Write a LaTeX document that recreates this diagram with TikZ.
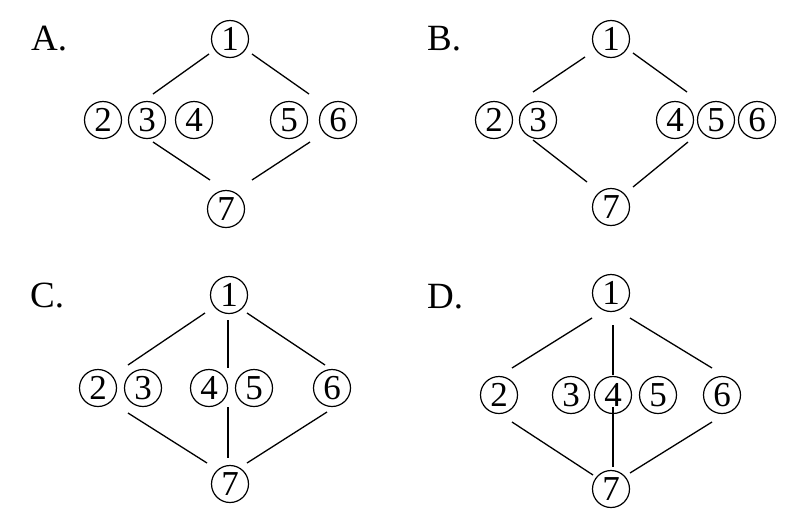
\documentclass[tikz,border=0pt]{standalone}
\usepackage{fontspec}
\setmainfont{Liberation Serif}
\usetikzlibrary{positioning}
\begin{document}
\begin{tikzpicture}[
  x=1pt, y=-1pt,
  num/.style={draw, circle, line width=1.2pt, minimum size=37pt, inner sep=0pt, font=\fontsize{35}{35}\selectfont},
  tag/.style={anchor=base west, inner sep=0pt, font=\fontsize{37}{37}\selectfont},
  link/.style={draw, line width=1.3pt}
  ]
\useasboundingbox (0,0) rectangle (799,528);

\node[tag] (labA) at (31,50) {A.};
\node[num] (a1) at (230,39) {1};
\node[num] (a2) at (103,120) {2};
\node[num] (a3) at (147,120) {3};
\node[num] (a4) at (194,120) {4};
\node[num] (a5) at (289,120) {5};
\node[num] (a6) at (338,120) {6};
\node[num] (a7) at (226,209) {7};
\coordinate (aTLs) at (209,54);  \coordinate (aTLe) at (153,94);
\coordinate (aTRs) at (252,54);  \coordinate (aTRe) at (309,94);
\coordinate (aBLs) at (153,142); \coordinate (aBLe) at (210,180);
\coordinate (aBRs) at (310,142); \coordinate (aBRe) at (252,180);
\draw[link] (aTLs) -- (aTLe);
\draw[link] (aTRs) -- (aTRe);
\draw[link] (aBLs) -- (aBLe);
\draw[link] (aBRs) -- (aBRe);

\node[tag] (labB) at (427,50) {B.};
\node[num] (b1) at (611,39) {1};
\node[num] (b2) at (494,120) {2};
\node[num] (b3) at (538,120) {3};
\node[num] (b4) at (675,120) {4};
\node[num] (b5) at (716,120) {5};
\node[num] (b6) at (757,120) {6};
\node[num] (b7) at (611,207) {7};
\coordinate (bTLs) at (585,57);  \coordinate (bTLe) at (533,92);
\coordinate (bTRs) at (633,53);  \coordinate (bTRe) at (687,92);
\coordinate (bBLs) at (533,140); \coordinate (bBLe) at (587,182);
\coordinate (bBRs) at (688,142); \coordinate (bBRe) at (633,187);
\draw[link] (bTLs) -- (bTLe);
\draw[link] (bTRs) -- (bTRe);
\draw[link] (bBLs) -- (bBLe);
\draw[link] (bBRs) -- (bBRe);

\node[tag] (labC) at (30,307) {C.};
\node[num] (c1) at (229,295) {1};
\node[num] (c2) at (98,388) {2};
\node[num] (c3) at (143,388) {3};
\node[num] (c4) at (209,388) {4};
\node[num] (c5) at (254,388) {5};
\node[num] (c6) at (332,388) {6};
\node[num] (c7) at (230,484) {7};
\coordinate (cTLs) at (205,313); \coordinate (cTLe) at (128,365);
\coordinate (cTMs) at (228,320); \coordinate (cTMe) at (228,368);
\coordinate (cTRs) at (247,313); \coordinate (cTRe) at (325,365);
\coordinate (cBLs) at (128,413); \coordinate (cBLe) at (207,463);
\coordinate (cBMs) at (228,407); \coordinate (cBMe) at (228,458);
\coordinate (cBRs) at (327,412); \coordinate (cBRe) at (247,463);
\draw[link] (cTLs) -- (cTLe);
\draw[link] (cTMs) -- (cTMe);
\draw[link] (cTRs) -- (cTRe);
\draw[link] (cBLs) -- (cBLe);
\draw[link] (cBMs) -- (cBMe);
\draw[link] (cBRs) -- (cBRe);

\node[tag] (labD) at (427,308) {D.};
\node[num] (d1) at (611,293) {1};
\node[num] (d2) at (499,395) {2};
\node[num] (d3) at (571,395) {3};
\node[num] (d4) at (613,395) {4};
\node[num] (d5) at (658,395) {5};
\node[num] (d6) at (722,395) {6};
\node[num] (d7) at (611,489) {7};
\coordinate (dTLs) at (592,318); \coordinate (dTLe) at (512,368);
\coordinate (dTMs) at (613,325); \coordinate (dTMe) at (613,375);
\coordinate (dTRs) at (630,318); \coordinate (dTRe) at (712,368);
\coordinate (dBLs) at (512,422); \coordinate (dBLe) at (593,475);
\coordinate (dBMs) at (613,407); \coordinate (dBMe) at (613,467);
\coordinate (dBRs) at (712,422); \coordinate (dBRe) at (630,473);
\draw[link] (dTLs) -- (dTLe);
\draw[link] (dTMs) -- (dTMe);
\draw[link] (dTRs) -- (dTRe);
\draw[link] (dBLs) -- (dBLe);
\draw[link] (dBMs) -- (dBMe);
\draw[link] (dBRs) -- (dBRe);

\end{tikzpicture}
\end{document}
